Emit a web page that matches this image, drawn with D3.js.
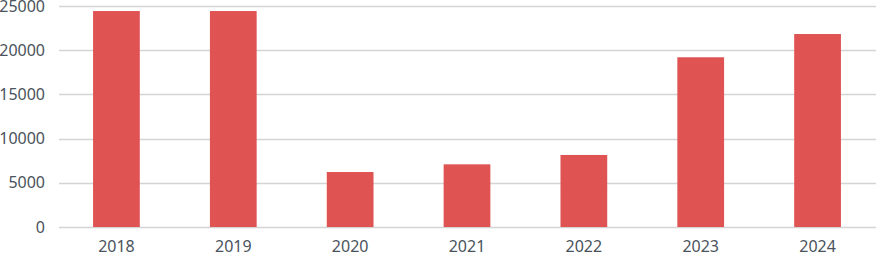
<!DOCTYPE html>
<html>
<head>
<meta charset="utf-8">
<script src="https://cdn.jsdelivr.net/npm/d3@7/dist/d3.min.js"></script>
<style>
  body { margin: 0; background: #fff; }
  svg { display: block; }
</style>
</head>
<body>
<div id="chart"></div>
<script>
// data
var years = ["2018", "2019", "2020", "2021", "2022", "2023", "2024"];
var values = [24430, 24430, 6220, 7090, 8150, 19200, 21830];
var yTicks = [0, 5000, 10000, 15000, 20000, 25000];

var svgWidth = 876;
var svgHeight = 256;
var margin = { top: 6, right: 0, bottom: 29, left: 58 };
var width = svgWidth - margin.left - margin.right;
var height = svgHeight - margin.top - margin.bottom;

var svg = d3.select("#chart")
  .append("svg")
  .attr("width", svgWidth)
  .attr("height", svgHeight);

var chartGroup = svg.append("g")
  .attr("transform", `translate(${margin.left}, ${margin.top})`);

var xScale = d3.scaleBand()
  .domain(years)
  .range([0, width])
  .paddingInner(0.6)
  .paddingOuter(0.3);

var yScale = d3.scaleLinear()
  .domain([0, 25000])
  .range([height, 0]);

// gridlines
chartGroup.append("g")
  .selectAll("line")
  .data(yTicks)
  .enter()
  .append("line")
  .attr("x1", 1)
  .attr("x2", width)
  .attr("y1", d => Math.round(yScale(d)) + 0.5)
  .attr("y2", d => Math.round(yScale(d)) + 0.5)
  .attr("stroke", "#d4d4d4")
  .attr("stroke-width", 1.3);

// bars
chartGroup.selectAll("rect")
  .data(values)
  .enter()
  .append("rect")
  .attr("x", (d, i) => xScale(years[i]))
  .attr("y", d => yScale(d))
  .attr("width", xScale.bandwidth())
  .attr("height", d => height - yScale(d))
  .attr("fill", "#e05353");

// y axis labels
var leftAxis = d3.axisLeft(yScale).tickValues(yTicks).tickSize(0).tickPadding(13).tickFormat(d3.format("d"));
var yAxisG = chartGroup.append("g").call(leftAxis);
yAxisG.select(".domain").remove();

// x axis labels
var bottomAxis = d3.axisBottom(xScale).tickSize(0).tickPadding(14);
var xAxisG = chartGroup.append("g")
  .attr("transform", `translate(0, ${height})`)
  .call(bottomAxis);
xAxisG.select(".domain").remove();

svg.selectAll(".tick text")
  .attr("font-family", "'Noto Sans', sans-serif")
  .attr("font-size", "16px")
  .attr("fill", "#4a535c");
</script>
</body>
</html>
